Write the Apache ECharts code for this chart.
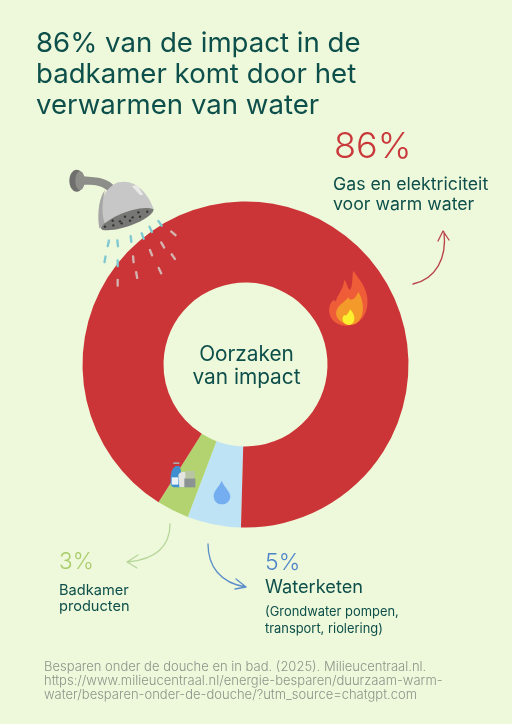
<!DOCTYPE html>
<html><head><meta charset="utf-8">
<style>html,body{margin:0;padding:0;background:#eef8da}#c{width:512px;height:724px}</style>
<script src="https://cdn.jsdelivr.net/npm/echarts@6/dist/echarts.min.js"></script>
</head><body><div id="c"></div>
<script>
const categories = ['Waterketen', 'Badkamer producten', 'Gas en elektriciteit voor warm water'];
const values = [5, 3, 86];
const colors = ['#bde3f5', '#b2d36f', '#cc3537'];
const FONT = 'Inter, sans-serif';
const dark = '#0d4f4a';
function txt(x, y, text, size, fill, lh, weight) {
  return {type:'text', x, y, style:{text, fontSize:size, fill, fontFamily:FONT, fontWeight:weight||400, lineHeight:lh||size*1.2, textVerticalAlign:'top'}, z:20};
}
function curve(d, color) {
  return {type:'path', shape:{pathData:d}, style:{fill:'none', stroke:color, lineWidth:1.3, lineCap:'round', lineJoin:'round'}};
}
const drops = [[145,250,12],[173,250,-6],[213,237,-6],[248,228,-20],[272,208,-25],[300,190,-35],[340,220,-50],[308,255,-30],[340,290,-35],[273,278,-22],[220,298,-5],[135,298,10],[173,310,0],[300,332,-25],[230,345,-10],[173,368,0]];
const showerParts = [
  {type:'path', shape:{pathData:'M45 45 C90 55 130 45 160 75 L145 95 C120 70 90 75 45 75 Z'}, style:{fill:'#8d8d8a'}},
  {type:'ellipse', shape:{cx:50,cy:62,rx:22,ry:33}, style:{fill:'#6f706d'}},
  {type:'ellipse', shape:{cx:60,cy:62,rx:14,ry:28}, style:{fill:'#8d8d8a'}},
  {type:'path', shape:{pathData:'M118 205 C110 150 125 85 175 67 C225 55 265 100 281 148 Z'}, style:{fill:'#c6c7c6'}},
  {type:'path', shape:{pathData:'M118 205 C110 150 120 110 135 90 C125 130 125 165 135 192 Z'}, style:{fill:'#a5a6a5'}},
  {type:'path', shape:{pathData:'M215 78 L232 75 L250 105 L240 105 Z'}, style:{fill:'#e9e9e8'}},
  {type:'path', shape:{pathData:'M122 205 C135 175 240 130 281 148 C280 175 180 218 128 210 Z'}, style:{fill:'#777876'}}
];
[[135,200],[160,196],[185,190],[210,182],[240,170],[262,155],[158,182],[180,184],[195,170],[218,172],[235,157]].forEach(p=>{
  showerParts.push({type:'circle', shape:{cx:p[0],cy:p[1],r:3.6}, style:{fill:'#33322f'}});
});
drops.forEach(d=>{
  const onRed = Math.hypot(60+d[0]/3-245.5, 160+d[1]/3-364.5) < 163;
  showerParts.push({type:'rect', x:d[0], y:d[1], rotation:-d[2]*Math.PI/180, shape:{x:-3.5,y:-12,width:7,height:24,r:3}, style:{fill:onRed?'#d2b4b0':'#7ec9d2'}});
});
const decorations = [
  curve('M413 284 C436 279 447 258 444 232 M438 241 L443 231 L449 240','#b9434a'),
  curve('M170 524 C170 545 157 559 128 562 M138 555 L127 562 L137 568','#b7d69a'),
  curve('M208 544 C208 566 220 583 246 587 M236 579 L246 587 L235 589','#5b8fc9'),
  {type:'group', x:60, y:160, scaleX:1/3, scaleY:1/3, children:showerParts},
  {type:'group', x:320, y:220, scaleX:1/3, scaleY:1/3, children:[
    {type:'path', shape:{pathData:'M100 152 C122 185 150 212 141 262 C135 300 105 320 75 317 C40 315 20 285 30 255 C38 235 45 240 48 245 C50 225 68 215 73 180 C82 190 82 205 90 210 C100 195 95 170 100 152 Z'}, style:{fill:'#ee5c38'}},
    {type:'path', shape:{pathData:'M115 215 C135 250 135 295 105 312 C80 320 50 305 48 280 C50 255 72 250 85 232 C90 245 105 240 115 215 Z'}, style:{fill:'#f39a2b'}},
    {type:'path', shape:{pathData:'M90 268 C108 285 108 312 88 315 C70 315 62 298 72 285 C78 290 85 282 90 268 Z'}, style:{fill:'#fdf02f'}}
  ]},
  {type:'group', x:150, y:420, scaleX:1/3, scaleY:1/3, children:[
    {type:'path', shape:{pathData:'M215 182 C225 205 241 215 241 230 C240 245 228 253 215 253 C200 253 190 242 191 225 C193 210 208 200 215 182 Z'}, style:{fill:'#74adf0'}},
    {type:'path', shape:{pathData:'M62 195 C60 160 65 145 78 138 L88 138 C95 150 96 180 95 202 L70 202 Z'}, style:{fill:'#3f8fd0'}},
    {type:'rect', shape:{x:70,y:127,width:18,height:5}, style:{fill:'#aaa'}},
    {type:'rect', shape:{x:65,y:172,width:20,height:22}, style:{fill:'#e8f2f8'}},
    {type:'path', shape:{pathData:'M85 165 C90 155 105 152 108 160 L108 200 L88 202 Z'}, style:{fill:'#e4e4e0'}},
    {type:'rect', shape:{x:103,y:175,width:33,height:27}, style:{fill:'#8b9294'}},
    {type:'rect', shape:{x:106,y:153,width:28,height:22}, style:{fill:'#b9c4a4'}}
  ]}
];
const chart = echarts.init(document.getElementById('c'), null, {renderer:'canvas'});
chart.setOption({
  backgroundColor:'#eef8da',
  animation:false,
  title:{text:'86% van de impact in de\nbadkamer komt door het\nverwarmen van water', left:31, top:23,
    textStyle:{color:dark, fontFamily:FONT, fontWeight:400, fontSize:27.6, lineHeight:31}},
  series:[
    {type:'pie', center:[245.5,364.5], radius:[82,163], startAngle:268.4, clockwise:true, silent:true,
     label:{show:false}, labelLine:{show:false},
     data:categories.map((n,i)=>({name:n, value:values[i], itemStyle:{color:colors[i]}}))},
    {type:'custom', coordinateSystem:'none', silent:true, z:15, data:[0],
     renderItem:()=>({type:'group', children:decorations})}
  ],
  graphic:[
    txt(334,126,'86%',36,'#c9383a',null,300),
    txt(333,175,'Gas en elektriciteit\nvoor warm water',17.7,dark,19.5),
    {type:'text', x:246.5, y:344, style:{text:'Oorzaken',fontSize:20.8,fontWeight:400,fill:dark,fontFamily:FONT,textAlign:'center',textVerticalAlign:'top'}, z:20},
    {type:'text', x:246.5, y:367, style:{text:'van impact',fontSize:20.8,fontWeight:400,fill:dark,fontFamily:FONT,textAlign:'center',textVerticalAlign:'top'}, z:20},
    txt(59,549,'3%',22.5,'#a9cd6c',null,300),
    txt(59,583,'Badkamer\nproducten',14.6,dark,16),
    txt(265,549,'5%',23,'#4f86c9',null,300),
    txt(265,577,'Waterketen',18.2,dark),
    txt(265,604,'(Grondwater pompen,\ntransport, riolering)',12.9,dark,17),
    txt(44,660,'Besparen onder de douche en in bad. (2025). Milieucentraal.nl.\nhttps://www.milieucentraal.nl/energie-besparen/duurzaam-warm-\nwater/besparen-onder-de-douche/?utm_source=chatgpt.com',13,'#8b958a',14.2,300)
  ]
});
</script></body></html>
